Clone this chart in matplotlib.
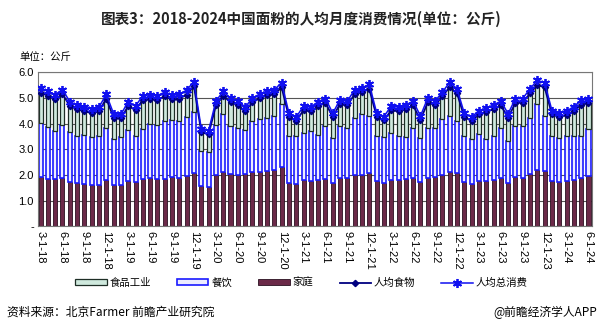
import numpy as np
import matplotlib
matplotlib.use("Agg")
import matplotlib.pyplot as plt

plt.rcParams['font.family'] = ['Liberation Sans', 'Noto Sans CJK SC', 'DejaVu Sans']

# monthly data, Mar 2018 .. Jun 2024 (kg per person)
home = [1.93, 1.86, 1.83, 1.89, 1.74, 1.70, 1.66, 1.63, 1.63, 1.79, 1.60, 1.60,
        1.77, 1.73, 1.86, 1.89, 1.83, 1.84, 1.91, 1.89, 1.95, 2.08, 1.56, 1.52,
        1.98, 2.13, 2.03, 2.01, 2.03, 2.10, 2.12, 2.14, 2.19, 2.30, 1.69, 1.65,
        1.79, 1.76, 1.82, 1.86, 1.69, 1.87, 1.88, 1.99, 2.01, 2.07, 1.75, 1.69,
        1.82, 1.81, 1.86, 1.88, 1.73, 1.89, 1.91, 2.01, 2.12, 2.08, 1.73, 1.65,
        1.75, 1.78, 1.82, 1.88, 1.69, 1.91, 1.90, 2.04, 2.21, 2.17, 1.75, 1.73,
        1.78, 1.82, 1.88, 1.95]
catering = [2.10, 1.99, 1.87, 2.06, 1.92, 1.82, 1.91, 1.84, 1.90, 2.03, 1.78, 1.87,
            1.96, 1.80, 1.91, 2.11, 2.13, 2.25, 2.24, 2.21, 2.29, 2.37, 1.36, 1.38,
            1.97, 2.22, 1.87, 1.82, 1.70, 1.99, 2.04, 2.08, 2.10, 2.45, 1.81, 1.85,
            1.85, 1.94, 1.75, 2.04, 1.75, 2.03, 1.95, 2.23, 2.34, 2.22, 1.75, 1.78,
            1.82, 1.69, 1.61, 1.95, 1.71, 1.94, 1.92, 2.15, 2.17, 2.01, 1.77, 1.73,
            1.85, 1.60, 1.68, 1.95, 1.62, 1.99, 2.00, 2.18, 2.53, 2.12, 1.75, 1.71,
            1.72, 1.68, 1.62, 1.82]
industry = [1.17, 1.23, 1.25, 1.20, 1.02, 1.03, 0.91, 0.93, 0.95, 1.15, 0.84, 0.73,
            0.95, 0.99, 1.15, 0.95, 0.96, 0.96, 0.79, 0.87, 0.88, 1.00, 0.74, 0.68,
            0.75, 0.73, 0.92, 0.89, 0.75, 0.73, 0.82, 0.87, 0.85, 0.65, 0.75, 0.60,
            0.88, 0.78, 1.11, 0.90, 0.81, 0.87, 0.87, 0.93, 0.87, 1.05, 0.77, 0.65,
            0.88, 0.97, 1.09, 0.87, 0.70, 0.99, 0.88, 0.89, 1.13, 1.09, 0.75, 0.72,
            0.75, 1.06, 1.06, 0.87, 0.92, 0.90, 0.91, 0.95, 0.76, 1.11, 0.85, 0.81,
            0.83, 1.00, 1.23, 1.03]
food = [5.20, 5.08, 4.95, 5.15, 4.68, 4.55, 4.48, 4.40, 4.48, 4.97, 4.22, 4.20,
        4.68, 4.52, 4.92, 4.95, 4.92, 5.05, 4.94, 4.97, 5.12, 5.45, 3.66, 3.58,
        4.70, 5.08, 4.82, 4.72, 4.48, 4.82, 4.98, 5.09, 5.14, 5.40, 4.25, 4.10,
        4.52, 4.48, 4.68, 4.80, 4.25, 4.77, 4.70, 5.15, 5.22, 5.34, 4.27, 4.12,
        4.52, 4.47, 4.56, 4.70, 4.14, 4.82, 4.71, 5.05, 5.42, 5.18, 4.25, 4.10,
        4.35, 4.44, 4.56, 4.70, 4.23, 4.80, 4.81, 5.17, 5.50, 5.40, 4.35, 4.25,
        4.33, 4.50, 4.73, 4.80]
total = [5.38, 5.25, 5.12, 5.32, 4.85, 4.71, 4.64, 4.56, 4.64, 5.13, 4.38, 4.35,
         4.85, 4.68, 5.08, 5.12, 5.08, 5.22, 5.10, 5.13, 5.30, 5.63, 3.80, 3.72,
         4.87, 5.25, 4.98, 4.88, 4.64, 4.98, 5.15, 5.26, 5.31, 5.59, 4.40, 4.25,
         4.68, 4.64, 4.85, 4.97, 4.40, 4.93, 4.87, 5.32, 5.39, 5.52, 4.42, 4.27,
         4.68, 4.63, 4.72, 4.87, 4.29, 4.99, 4.87, 5.22, 5.60, 5.35, 4.40, 4.25,
         4.50, 4.60, 4.72, 4.87, 4.38, 4.97, 4.97, 5.35, 5.68, 5.58, 4.50, 4.40,
         4.48, 4.66, 4.90, 4.97]
tick_labels = ['3-1-18', '6-1-18', '9-1-18', '12-1-18', '3-1-19', '6-1-19', '9-1-19',
               '12-1-19', '3-1-20', '6-1-20', '9-1-20', '12-1-20', '3-1-21', '6-1-21',
               '9-1-21', '12-1-21', '3-1-22', '6-1-22', '9-1-22', '12-1-22', '3-1-23',
               '6-1-23', '9-1-23', '12-1-23', '3-1-24', '6-1-24']

x = np.arange(len(home))
home = np.array(home)
catering = np.array(catering)
industry = np.array(industry)

fig = plt.figure(figsize=(6.03, 3.35), dpi=100)
ax = fig.add_axes([0.063, 0.324, 0.919, 0.461])

w = 0.55
ax.bar(x, home, w, color='#6B2948', edgecolor='#2a1020', linewidth=0.6,
       label='家庭', zorder=2)
ax.bar(x, catering, w, bottom=home, color='#ECECFF', edgecolor='#1a1aff',
       linewidth=1.2, label='餐饮', zorder=2)
ax.bar(x, industry, w, bottom=home + catering, color='#CFE9DD', edgecolor='#1e2e26',
       linewidth=0.9, label='食品工业', zorder=2)
ax.plot(x, food, color='#000080', marker='D', markersize=3.2, linewidth=1.3,
        label='人均食物', zorder=3)
ax.plot(x, total, color='#1010F0', marker=(6, 2, 0), markersize=6.5,
        markeredgewidth=1.3, linewidth=1.1, label='人均总消费', zorder=4)

ax.set_xlim(-0.35, 75.5)
ax.set_ylim(0, 6)
ax.set_yticks(np.arange(0, 7, 1))
ax.set_yticklabels(['-', '1.0', '2.0', '3.0', '4.0', '5.0', '6.0'], fontsize=8)
ax.set_xticks(x[::3])
ax.set_xticklabels(tick_labels, rotation=-90, fontsize=8)
ax.tick_params(axis='both', length=0, pad=3)
ax.grid(axis='y', color='#555555', linewidth=0.8, zorder=0)
ax.set_axisbelow(True)
for s in ax.spines.values():
    s.set_color('#777777')
    s.set_linewidth(0.8)

handles, labels = ax.get_legend_handles_labels()
order = [4, 3, 2, 0, 1]
fig.legend([handles[i] for i in order], [labels[i] for i in order],
           loc='center', bbox_to_anchor=(0.5, 0.155), ncol=5, frameon=False,
           fontsize=7.5, handlelength=3.0, handleheight=0.5, columnspacing=2.5,
           handletextpad=0.3)

fig.text(0.5, 0.945, '图表3：2018-2024中国面粉的人均月度消费情况(单位：公斤)',
         ha='center', va='center', fontsize=10.5, fontweight='bold',
         family=['Noto Sans CJK SC'], color='#222222')
fig.text(0.033, 0.83, '单位：公斤', fontsize=7.5, va='center',
         family=['Noto Sans CJK SC'])
fig.text(0.012, 0.068, '资料来源：北京Farmer 前瞻产业研究院', fontsize=8.5, va='center',
         family=['Noto Sans CJK SC'])
fig.text(0.99, 0.068, '@前瞻经济学人APP', fontsize=8.5, va='center', ha='right',
         family=['Noto Sans CJK SC'])

fig.savefig('out.png', dpi=100)
